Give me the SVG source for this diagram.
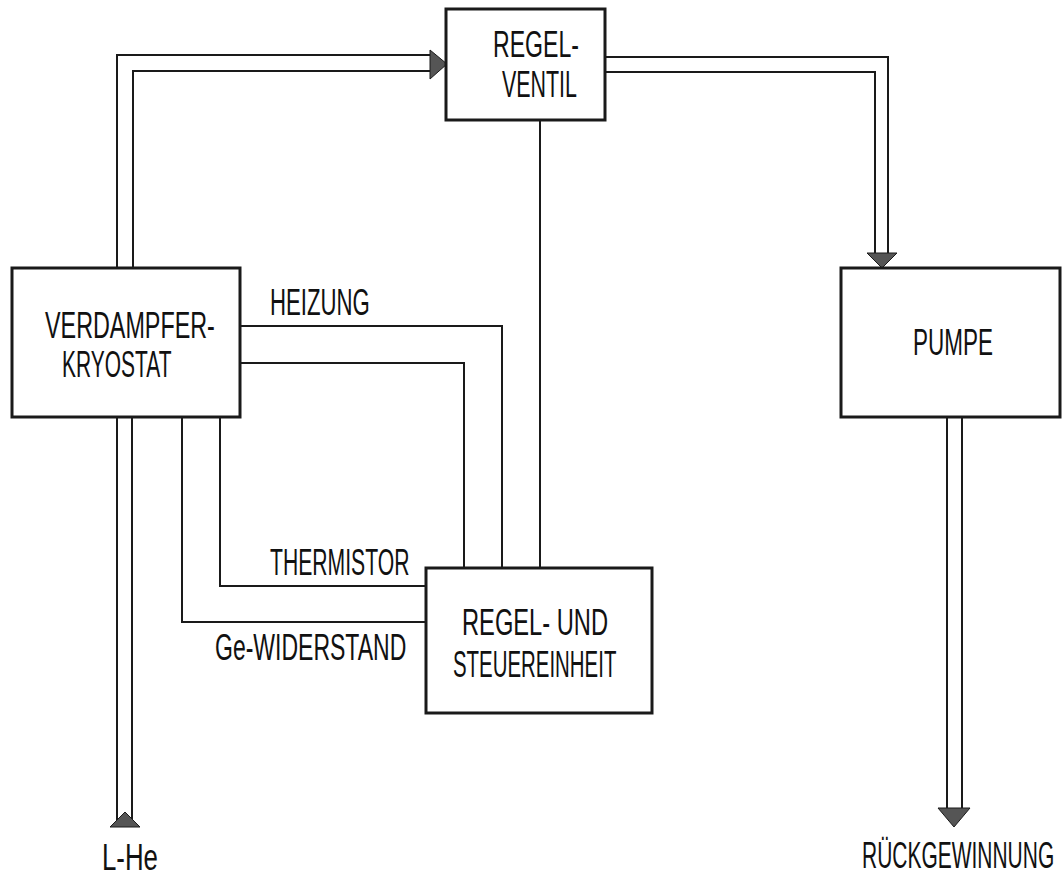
<svg xmlns="http://www.w3.org/2000/svg" width="1064" height="879" viewBox="0 0 1064 879">
<style>
.box{fill:#fff;stroke:#1a1a1a;stroke-width:3}
.ln{fill:none;stroke:#1a1a1a;stroke-width:2}
.ah{fill:#555;stroke:#1a1a1a;stroke-width:1}
text{font-family:"Liberation Sans","DejaVu Sans",sans-serif;font-size:37px;fill:#111}
</style>
<rect width="1064" height="879" fill="#fff"/>
<g id="connectors">
<path class="ln" d="M117,268 V55 H432"/>
<path class="ln" d="M133,268 V71 H432"/>
<polygon class="ah" points="430,50 447,64 430,79"/>
<path class="ln" d="M605,57 H888 V255"/>
<path class="ln" d="M605,72 H875 V255"/>
<polygon class="ah" points="867,253 897,253 882,268"/>
<path class="ln" d="M540,120 V568"/>
<path class="ln" d="M240,326 H502 V568"/>
<path class="ln" d="M240,363 H464 V568"/>
<path class="ln" d="M220,417 V586 H426"/>
<path class="ln" d="M182,417 V622 H426"/>
<path class="ln" d="M117,417 V820"/>
<path class="ln" d="M132,417 V820"/>
<polygon class="ah" points="110,827 140,827 125,812"/>
<path class="ln" d="M947,417 V810"/>
<path class="ln" d="M962,417 V810"/>
<polygon class="ah" points="938,808 970,808 954,827"/>
</g>
<g id="regelventil">
<rect class="box" x="446" y="9" width="159" height="111"/>
<text transform="translate(493,57) scale(0.624,1)">REGEL-</text>
<text transform="translate(502,97) scale(0.579,1)">VENTIL</text>
</g>
<g id="verdampfer">
<rect class="box" x="12" y="268" width="228" height="149"/>
<text transform="translate(45,338) scale(0.631,1)">VERDAMPFER-</text>
<text transform="translate(62,377) scale(0.567,1)">KRYOSTAT</text>
</g>
<g id="pumpe">
<rect class="box" x="841" y="268" width="219" height="149"/>
<text transform="translate(913,355) scale(0.608,1)">PUMPE</text>
</g>
<g id="regelund">
<rect class="box" x="426" y="568" width="226" height="145"/>
<text transform="translate(462,635) scale(0.64,1)">REGEL- UND</text>
<text transform="translate(453,677) scale(0.552,1)">STEUEREINHEIT</text>
</g>
<g id="labels">
<text transform="translate(270,315) scale(0.6,1)">HEIZUNG</text>
<text transform="translate(270,575) scale(0.572,1)">THERMISTOR</text>
<text transform="translate(215,660) scale(0.622,1)">Ge-WIDERSTAND</text>
<text transform="translate(102,870) scale(0.698,1)">L-He</text>
<text transform="translate(862,868) scale(0.567,1)">RÜCKGEWINNUNG</text>
</g>
</svg>
